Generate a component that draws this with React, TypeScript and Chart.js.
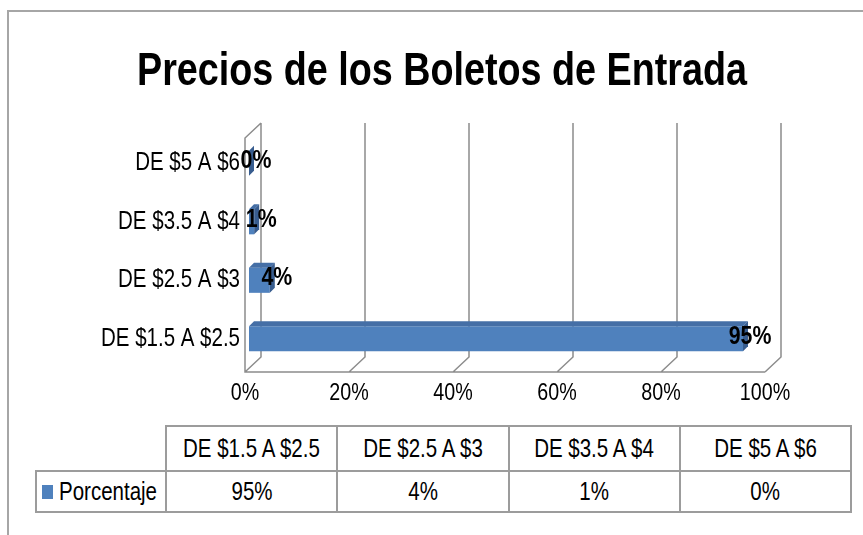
import React, { useEffect, useRef } from 'react';
import { Chart, registerables } from 'chart.js';

Chart.register(...registerables);

const TITLE = 'Precios de los Boletos de Entrada';
const categories = ['DE $1.5 A $2.5', 'DE $2.5 A $3', 'DE $3.5 A $4', 'DE $5 A $6'];
const seriesName = 'Porcentaje';
const percentages = [95, 4, 1, 0];
const xTicks = [0, 20, 40, 60, 80, 100];

const FONT = "'Liberation Sans', Arial, Helvetica, sans-serif";
const SX = 0.82; // horizontal condensing of all text
const BLUE = '#4f81bd';
const BLUE_TOP = '#456fa6';
const BLUE_SIDE = '#385d8f';
const GRID = '#8c8c8c';

const FRONT = { dx: -4, dy: 4 };
const BACK = { dx: 12, dy: -11 };
const DEPTH = { dx: 5, dy: -5 };

function drawText(ctx: CanvasRenderingContext2D, text: string, x: number, y: number, align: CanvasTextAlign, font: string) {
  ctx.save();
  ctx.font = font;
  ctx.fillStyle = '#000';
  ctx.textAlign = align;
  ctx.textBaseline = 'middle';
  ctx.translate(x, y);
  ctx.scale(SX, 1);
  ctx.fillText(text, 0, 0);
  ctx.restore();
}

const wallsPlugin = {
  id: 'walls3d',
  beforeDatasetsDraw(chart: any) {
    const { ctx, chartArea: ca, scales } = chart;
    const xs = scales.x;
    ctx.save();
    ctx.strokeStyle = GRID;
    ctx.lineWidth = 1.5;
    ctx.beginPath();
    xTicks.forEach((v) => {
      const px = xs.getPixelForValue(v);
      ctx.moveTo(px + BACK.dx, ca.top + BACK.dy);
      ctx.lineTo(px + BACK.dx, ca.bottom + BACK.dy);
      ctx.lineTo(px + FRONT.dx, ca.bottom + FRONT.dy);
    });
    const x0 = xs.getPixelForValue(xTicks[0]);
    const x1 = xs.getPixelForValue(xTicks[xTicks.length - 1]);
    ctx.moveTo(x0 + BACK.dx, ca.top + BACK.dy);
    ctx.lineTo(x0 + FRONT.dx, ca.top + FRONT.dy);
    ctx.lineTo(x0 + FRONT.dx, ca.bottom + FRONT.dy);
    ctx.lineTo(x1 + FRONT.dx, ca.bottom + FRONT.dy);
    ctx.stroke();
    ctx.restore();
  },
  afterDatasetsDraw(chart: any) {
    const { ctx } = chart;
    const meta = chart.getDatasetMeta(0);
    ctx.save();
    meta.data.forEach((bar: any) => {
      const { x, y, base, height } = bar.getProps(['x', 'y', 'base', 'height'], true);
      const top = y - height / 2;
      const bot = y + height / 2;
      ctx.fillStyle = BLUE_TOP;
      ctx.beginPath();
      ctx.moveTo(base, top);
      ctx.lineTo(x, top);
      ctx.lineTo(x + DEPTH.dx, top + DEPTH.dy);
      ctx.lineTo(base + DEPTH.dx, top + DEPTH.dy);
      ctx.closePath();
      ctx.fill();
      ctx.fillStyle = BLUE_SIDE;
      ctx.beginPath();
      ctx.moveTo(x, top);
      ctx.lineTo(x + DEPTH.dx, top + DEPTH.dy);
      ctx.lineTo(x + DEPTH.dx, bot + DEPTH.dy);
      ctx.lineTo(x, bot);
      ctx.closePath();
      ctx.fill();
    });
    ctx.restore();
    meta.data.forEach((bar: any, i: number) => {
      const { x, y } = bar.getProps(['x', 'y'], true);
      drawText(ctx, `${percentages[i]}%`, x + 7, y - 2, 'center', `bold 26px ${FONT}`);
    });
  },
  afterDraw(chart: any) {
    const { ctx, scales, chartArea: ca } = chart;
    drawText(ctx, TITLE, 442, 72, 'center', `bold 46px ${FONT}`);
    categories.forEach((c, i) => {
      drawText(ctx, c, 240, scales.y.getPixelForValue(i), 'right', `25px ${FONT}`);
    });
    xTicks.forEach((v) => {
      drawText(ctx, `${v}%`, scales.x.getPixelForValue(v) + FRONT.dx, ca.bottom + 25, 'center', `24px ${FONT}`);
    });
  },
};

const cellBorder = '2px solid #9c9c9c';

const condensed = (origin: string): React.CSSProperties => ({
  display: 'inline-block',
  transform: `scaleX(${SX})`,
  transformOrigin: origin,
  whiteSpace: 'nowrap',
});

export default function App() {
  const canvasRef = useRef<HTMLCanvasElement | null>(null);

  useEffect(() => {
    document.body.style.margin = '0';
    const canvas = canvasRef.current;
    if (!canvas) return;
    const chart = new Chart(canvas, {
      type: 'bar',
      data: {
        labels: categories,
        datasets: [
          {
            label: seriesName,
            data: percentages,
            backgroundColor: BLUE,
            borderWidth: 0,
            categoryPercentage: 0.5,
            barPercentage: 0.86,
          },
        ],
      },
      options: {
        indexAxis: 'y',
        animation: false,
        responsive: false,
        devicePixelRatio: 1,
        layout: { padding: { top: 134, right: 94, left: 0, bottom: 0 } },
        plugins: {
          legend: { display: false },
          title: { display: false },
          tooltip: { enabled: false },
        },
        scales: {
          x: {
            min: 0,
            max: 100,
            position: 'bottom',
            grid: { display: false },
            border: { display: false },
            ticks: { display: false, stepSize: 20 },
            afterFit: (s: any) => {
              s.height = 52;
            },
          },
          y: {
            reverse: true,
            grid: { display: false },
            border: { display: false },
            ticks: { display: false },
            afterFit: (s: any) => {
              s.width = 249;
            },
          },
        },
      } as any,
      plugins: [wallsPlugin],
    });
    return () => chart.destroy();
  }, []);

  const colLeft = 165;
  const colW = 171.25;

  const cellBase: React.CSSProperties = {
    position: 'absolute',
    boxSizing: 'border-box',
    border: cellBorder,
    display: 'flex',
    alignItems: 'center',
    justifyContent: 'center',
    fontSize: 25,
    color: '#000',
    overflow: 'visible',
  };

  return (
    <div style={{ position: 'relative', width: 863, height: 535, overflow: 'hidden', background: '#fff', fontFamily: FONT }}>
      <div
        style={{
          position: 'absolute',
          left: 7,
          top: 10,
          width: 900,
          height: 600,
          borderLeft: '2px solid #a6a6a6',
          borderTop: '2px solid #a6a6a6',
        }}
      />
      <canvas ref={canvasRef} width={863} height={420} style={{ position: 'absolute', left: 0, top: 0, display: 'block' }} />
      {categories.map((c, i) => (
        <div key={'h' + i} style={{ ...cellBase, left: colLeft + colW * i, top: 425, width: colW + 2, height: 47 }}>
          <span style={condensed('center')}>{c}</span>
        </div>
      ))}
      <div style={{ ...cellBase, left: 35, top: 470, width: 132, height: 43, justifyContent: 'flex-start' }}>
        <span style={{ display: 'inline-block', flexShrink: 0, width: 11, height: 14, background: BLUE, marginLeft: 5, marginRight: 6 }} />
        <span style={condensed('left center')}>{seriesName}</span>
      </div>
      {percentages.map((v, i) => (
        <div key={'v' + i} style={{ ...cellBase, left: colLeft + colW * i, top: 470, width: colW + 2, height: 43 }}>
          <span style={condensed('center')}>{v}%</span>
        </div>
      ))}
    </div>
  );
}
